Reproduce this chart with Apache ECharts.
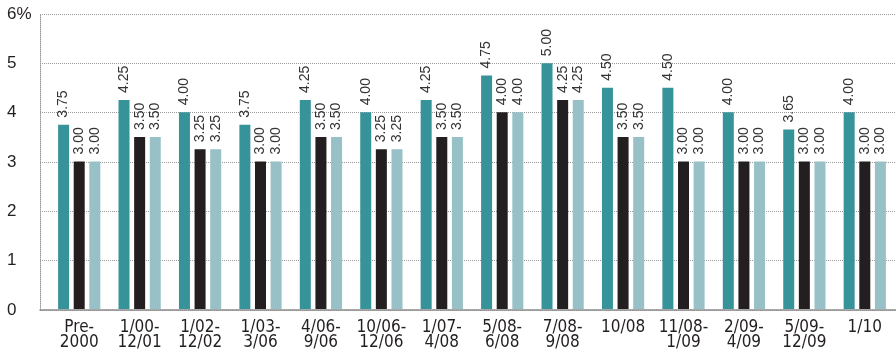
<!DOCTYPE html>
<html>
<head>
<meta charset="utf-8">
<script src="https://cdn.jsdelivr.net/npm/echarts@6/dist/echarts.min.js"></script>
<style>
  html, body { margin: 0; padding: 0; background: #fff; }
  #chart { width: 896px; height: 351px; }
</style>
</head>
<body>
<div id="chart"></div>
<script>
// Period labels along the bottom axis
const categories = [
  'Pre-\n2000', '1/00-\n12/01', '1/02-\n12/02', '1/03-\n3/06', '4/06-\n9/06',
  '10/06-\n12/06', '1/07-\n4/08', '5/08-\n6/08', '7/08-\n9/08', '10/08',
  '11/08-\n1/09', '2/09-\n4/09', '5/09-\n12/09', '1/10'
];
// Rates (%) for the three series in each period
const seriesA = [3.75, 4.25, 4.00, 3.75, 4.25, 4.00, 4.25, 4.75, 5.00, 4.50, 4.50, 4.00, 3.65, 4.00];
const seriesB = [3.00, 3.50, 3.25, 3.00, 3.50, 3.25, 3.50, 4.00, 4.25, 3.50, 3.00, 3.00, 3.00, 3.00];
const seriesC = [3.00, 3.50, 3.25, 3.00, 3.50, 3.25, 3.50, 4.00, 4.25, 3.50, 3.00, 3.00, 3.00, 3.00];
// Value-axis ticks
const yTicks = [0, 1, 2, 3, 4, 5, 6];

const colors = ['#37939a', '#231f20', '#97c1c7'];
const font = 'Liberation Sans, Arial, sans-serif';
const narrow = '"Liberation Sans Narrow", "DejaVu Sans Condensed", "Liberation Sans", sans-serif';

const yMin = yTicks[0], yMax = yTicks[yTicks.length - 1];

function barSeries(name, data, color) {
  return {
    name: name,
    type: 'bar',
    xAxisIndex: 1,
    yAxisIndex: 1,
    data: data,
    barWidth: 11,
    barGap: '42%',
    itemStyle: { color: color },
    label: {
      show: true,
      position: 'top',
      distance: 7,
      rotate: 90,
      align: 'left',
      verticalAlign: 'middle',
      fontFamily: font,
      fontSize: 14,
      color: '#333',
      formatter: p => p.value.toFixed(2)
    }
  };
}

const chart = echarts.init(document.getElementById('chart'), null, { renderer: 'canvas' });
chart.setOption({
  animation: false,
  grid: [
    // frame: gridlines, value labels, base line
    { left: 40, right: 0, top: 14, bottom: 41 },
    // bars
    { left: 49, right: 1, top: 14, bottom: 41 }
  ],
  xAxis: [
    {
      gridIndex: 0, type: 'value', min: 0, max: 1,
      axisLine: { show: true, lineStyle: { color: '#8c8c8c', width: 1.5 } },
      axisTick: { show: false }, axisLabel: { show: false }, splitLine: { show: false }
    },
    {
      gridIndex: 1, type: 'category', data: categories,
      axisLine: { show: false }, axisTick: { show: false },
      axisLabel: {
        interval: 0, margin: 11, fontFamily: narrow, fontSize: 17,
        lineHeight: 15, color: '#231f20'
      }
    }
  ],
  yAxis: [
    {
      gridIndex: 0, type: 'value', min: yMin, max: yMax, interval: 1,
      axisLine: { show: true, lineStyle: { color: '#9a9a9a', type: 'dotted' } },
      axisTick: { show: false },
      axisLabel: {
        margin: 33, align: 'left', fontFamily: font, fontSize: 17, color: '#231f20',
        formatter: v => (v === yMax ? v + '%' : String(v))
      },
      splitLine: { show: true, lineStyle: { color: '#9a9a9a', type: 'dotted' } }
    },
    {
      gridIndex: 1, type: 'value', min: yMin, max: yMax, interval: 1, show: false,
      splitLine: { show: false }
    }
  ],
  series: [
    barSeries('A', seriesA, colors[0]),
    barSeries('B', seriesB, colors[1]),
    barSeries('C', seriesC, colors[2])
  ]
});
</script>
</body>
</html>
